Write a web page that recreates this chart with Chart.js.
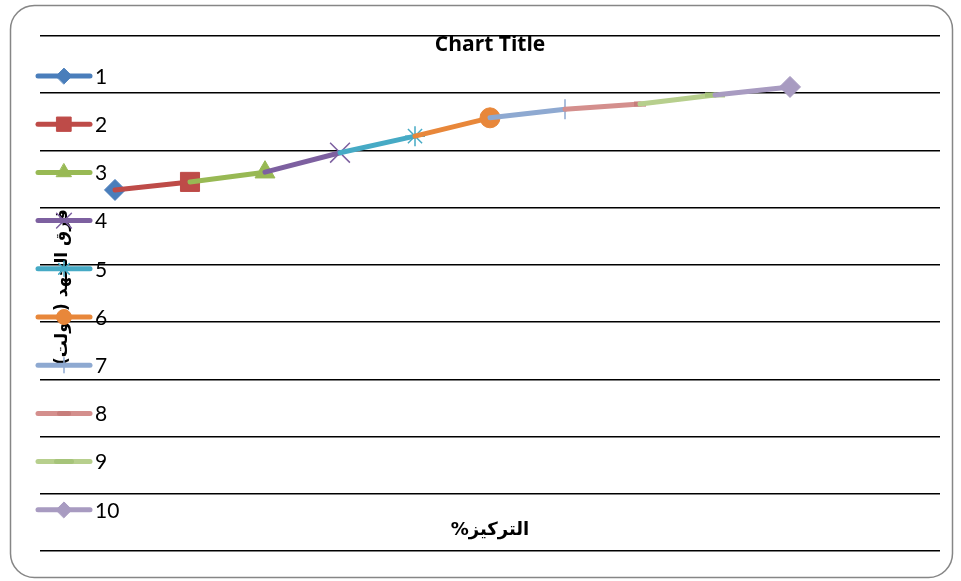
<!DOCTYPE html>
<html>
<head>
<meta charset="utf-8">
<script src="https://cdn.jsdelivr.net/npm/chart.js@4/dist/chart.umd.min.js"></script>
<style>
  html, body { margin: 0; padding: 0; background: #fff; }
</style>
</head>
<body>
<canvas id="chart" width="961" height="581"></canvas>
<script>
// 数据
const seriesNames = ['1', '2', '3', '4', '5', '6', '7', '8', '9', '10'];
const xValues = [1, 2, 3, 4, 5, 6, 7, 8, 9, 10];
const yValues = [6.31, 6.45, 6.62, 6.96, 7.25, 7.57, 7.72, 7.81, 7.97, 8.11];
const chartTitle = 'Chart Title';
const xTitle = 'التركيز%';
const yTitle = 'فرق الجهد (فولت)';

// 样式
const seriesColors = ['#4A7EBB', '#BE4B48', '#98B954', '#7D60A0', '#46AAC5',
                      '#E8873A', '#8EA9D1', '#D48F8D', '#B7CF8D', '#A89BC1'];
const markerColors = ['#4A7EBB', '#BE4B48', '#98B954', '#7D60A0', '#46AAC5',
                      '#E8873A', '#8EA9D1', '#C77D7B', '#A6C47A', '#A89BC1'];
const markerStyles = ['rectRot', 'rect', 'triangle', 'crossRot', 'star',
                      'circle', 'cross', 'line', 'line', 'rectRot'];
const markerSizes = [10.5, 13.5, 11.5, 14, 10, 10, 10, 6, 10, 10.5];
const markerBorders = [1, 1, 1, 1.5, 1.5, 1, 1.5, 5, 5, 1];

const datasets = seriesNames.map((name, i) => {
    const pts = i === 0
        ? [{ x: xValues[0], y: yValues[0] }]
        : [{ x: xValues[i - 1], y: yValues[i - 1] }, { x: xValues[i], y: yValues[i] }];
    const last = pts.length - 1;
    return {
        label: name,
        data: pts,
        showLine: true,
        borderColor: seriesColors[i],
        backgroundColor: seriesColors[i],
        borderWidth: 5,
        borderCapStyle: 'round',
        borderJoinStyle: 'round',
        pointStyle: markerStyles[i],
        pointRadius: pts.map((p, j) => j === last ? markerSizes[i] : 0),
        pointBorderWidth: markerBorders[i],
        pointBackgroundColor: markerColors[i],
        pointBorderColor: markerColors[i],
        order: seriesNames.length - i
    };
});

// 边框、标题、图例
const decor = {
    id: 'decor',
    beforeDraw(chart) {
        const ctx = chart.ctx;
        ctx.save();
        ctx.fillStyle = '#fff';
        ctx.fillRect(0, 0, chart.width, chart.height);
        ctx.strokeStyle = '#868686';
        ctx.lineWidth = 1.5;
        ctx.beginPath();
        ctx.roundRect(10.5, 5.5, 942, 572, 24);
        ctx.stroke();
        ctx.restore();
    },
    afterDraw(chart) {
        const ctx = chart.ctx;
        const area = chart.chartArea;
        const cx = (area.left + area.right) / 2;
        ctx.save();
        ctx.fillStyle = '#000';
        ctx.textAlign = 'center';
        ctx.textBaseline = 'middle';
        ctx.font = 'bold 21px "Open Sans", Lato, sans-serif';
        ctx.fillText(chartTitle, cx, area.top + 9);

        ctx.direction = 'rtl';
        ctx.font = 'bold 18px "DejaVu Sans", sans-serif';
        ctx.fillText(xTitle, cx, area.bottom - 21);

        ctx.save();
        ctx.translate(63, 287);
        ctx.rotate(-Math.PI / 2);
        ctx.font = 'bold 17px "DejaVu Sans", sans-serif';
        ctx.fillText(yTitle, 0, 0);
        ctx.restore();
        ctx.direction = 'ltr';

        const helpers = Chart.helpers;
        seriesNames.forEach((name, i) => {
            const y = 76 + i * 48.2;
            ctx.strokeStyle = seriesColors[i];
            ctx.lineWidth = 5;
            ctx.lineCap = 'round';
            ctx.beginPath();
            ctx.moveTo(38, y);
            ctx.lineTo(90, y);
            ctx.stroke();
            ctx.fillStyle = markerColors[i];
            ctx.strokeStyle = markerColors[i];
            ctx.lineWidth = markerBorders[i];
            helpers.drawPoint(ctx, {
                pointStyle: markerStyles[i],
                radius: markerSizes[i] * 0.75,
                rotation: 0,
                borderWidth: markerBorders[i]
            }, 64, y);
            ctx.fillStyle = '#000';
            ctx.textAlign = 'left';
            ctx.font = '21px Lato, "Open Sans", sans-serif';
            ctx.fillText(name, 95, y + 1);
        });
        ctx.restore();
    }
};

new Chart(document.getElementById('chart'), {
    type: 'scatter',
    data: { datasets },
    options: {
        responsive: false,
        animation: false,
        events: [],
        layout: { padding: { left: 40, right: 21, top: 36, bottom: 30 } },
        plugins: {
            legend: { display: false },
            title: { display: false },
            tooltip: { enabled: false }
        },
        scales: {
            x: { type: 'linear', min: 0, max: 12, display: false },
            y: {
                type: 'linear', min: 0, max: 9,
                ticks: { display: false, stepSize: 1 },
                grid: { color: '#000', lineWidth: 1.5, drawTicks: false },
                border: { display: false }
            }
        }
    },
    plugins: [decor]
});
</script>
</body>
</html>
